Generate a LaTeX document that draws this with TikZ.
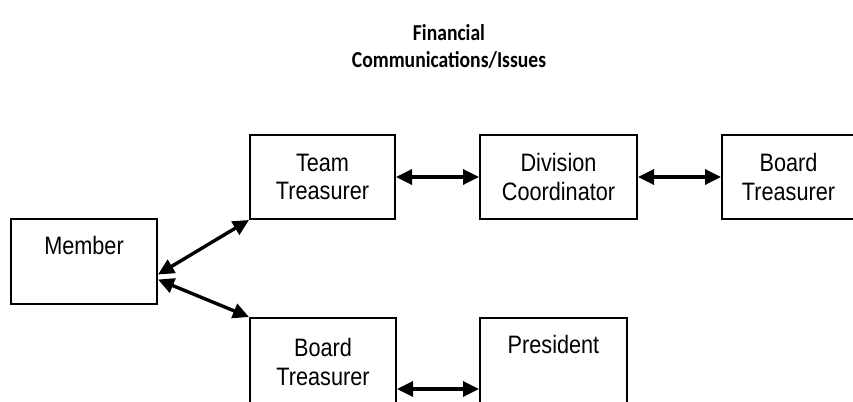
\documentclass[tikz,border=0pt]{standalone}
\usepackage{fontspec}
\setmainfont{Liberation Sans}
\newfontfamily\boxfont[FakeStretch=0.86]{Liberation Sans}
\newfontfamily\titlefont[FakeStretch=0.86]{Carlito}
\usetikzlibrary{positioning,arrows.meta}

\tikzset{
  box/.style={draw, line width=1pt, inner sep=0pt, align=center,
    font=\boxfont\fontsize{12.6}{14.3}\selectfont},
  biarrow/.style={line width=1.7pt,
    {Triangle[length=8pt,width=7.5pt]}-{Triangle[length=8pt,width=7.5pt]}}
}

\begin{document}
\begin{tikzpicture}[x=0.5pt,y=-0.5pt]
      \clip (0,0) rectangle (853,402);

      \node [font=\titlefont\bfseries\fontsize{11.4}{13.5}\selectfont, align=center] (title) at (449,47) {Financial\\Communications/Issues};

      \node [box, minimum width=73pt, text height=17.5pt, text depth=25pt] (member) at (84,261.5) {Member};
      \node [box, minimum width=72.5pt, minimum height=42pt] (teamtr) at (322.5,177) {Team\\Treasurer};
      \node [box, right=41.5pt of teamtr, minimum width=78.5pt, minimum height=42pt] (divco) {Division\\Coordinator};
      \node [box, right=41.5pt of divco, minimum width=66.5pt, minimum height=42pt] (boardtr) {Board\\Treasurer};
      \node [box, minimum width=73pt, minimum height=44pt] (boardtr2) at (323,362) {Board\\Treasurer};
      \node [box, right=41pt of boardtr2, minimum width=73.5pt, text height=17.5pt, text depth=26.5pt] (pres) {President};

      \draw[biarrow] (teamtr) -- (divco);
      \draw[biarrow] (divco) -- (boardtr);
      \draw[biarrow] ([yshift=-6.5pt]member.east) -- (teamtr.south west);
      \draw[biarrow] ([yshift=-9pt]member.east) -- (boardtr2.north west);
      \draw[biarrow] ([yshift=-13.5pt]boardtr2.east) -- ([yshift=-13.5pt]pres.west);
    \end{tikzpicture}
\end{document}
